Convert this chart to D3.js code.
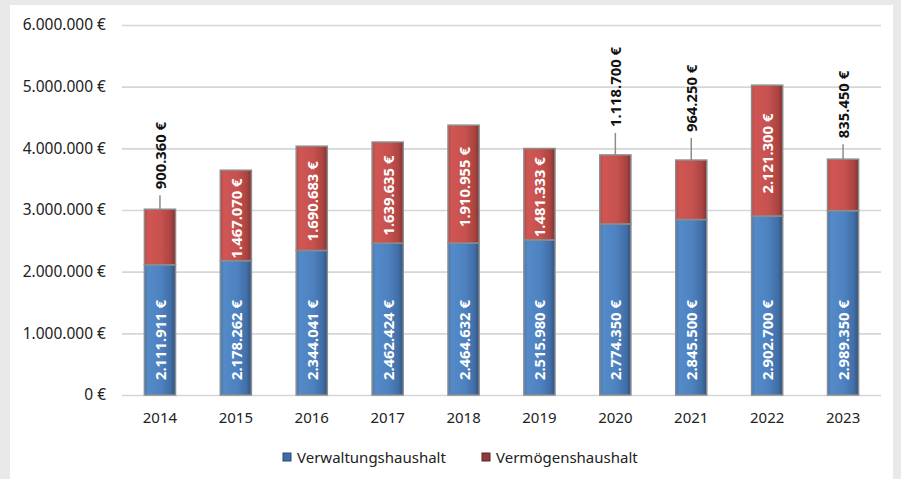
<!DOCTYPE html>
<html>
<head>
<meta charset="utf-8">
<script src="https://cdn.jsdelivr.net/npm/d3@7"></script>
<style>
  html, body { margin: 0; padding: 0; background: #e9e9e9; }
  svg { display: block; font-family: "Noto Sans", "Open Sans", sans-serif; }
</style>
</head>
<body>
<svg id="chart" width="901" height="479"></svg>
<script>
// ---- data ----
const years = ["2014","2015","2016","2017","2018","2019","2020","2021","2022","2023"];
const verwaltung = [2111911, 2178262, 2344041, 2462424, 2464632, 2515980, 2774350, 2845500, 2902700, 2989350];
const vermoegen  = [900360, 1467070, 1690683, 1639635, 1910955, 1481333, 1118700, 964250, 2121300, 835450];
const seriesNames = ["Verwaltungshaushalt", "Vermögenshaushalt"];
const yTicks = [0, 1000000, 2000000, 3000000, 4000000, 5000000, 6000000];
// years whose Vermögenshaushalt label sits above the bar, with leader length (px)
const outsideLeader = {"2014": 14, "2020": 22, "2021": 22, "2023": 15};

// ---- layout ----
const svg = d3.select("#chart");
const W = 901, H = 479;
const plot = {left: 122, right: 881, top: 25, bottom: 395};

svg.append("rect").attr("x", 10).attr("y", 5).attr("width", 883).attr("height", H - 5).attr("fill", "#ffffff");

const de = d3.formatLocale({decimal: ",", thousands: ".", grouping: [3], currency: ["", " €"]});
const fmt = v => de.format(",.0f")(v) + " €";

const x = d3.scaleBand().domain(years).range([plot.left, plot.right]).paddingInner(0.59).paddingOuter(0.295);
const y = d3.scaleLinear().domain([0, 6000000]).range([plot.bottom, plot.top]);

// gradients
const defs = svg.append("defs");
function grad(id, stops) {
  const g = defs.append("linearGradient").attr("id", id).attr("x1", "0").attr("x2", "1").attr("y1", "0").attr("y2", "0");
  stops.forEach(s => g.append("stop").attr("offset", s[0]).attr("stop-color", s[1]));
}
grad("gBlue", [[0, "#4577b2"], [0.12, "#558ac8"], [0.55, "#4d81bf"], [0.85, "#416ea5"], [1, "#2e5281"]]);
grad("gRed",  [[0, "#b84947"], [0.12, "#d05653"], [0.55, "#c6514e"], [0.85, "#ab4441"], [1, "#803231"]]);

// grid + y axis
const yAxis = d3.axisLeft(y).tickValues(yTicks).tickFormat(fmt).tickSize(-(plot.right - plot.left)).tickPadding(16);
const gy = svg.append("g").attr("transform", `translate(${plot.left},0)`).call(yAxis);
gy.select(".domain").remove();
gy.selectAll(".tick line").attr("stroke", "#d6d6d6").attr("stroke-width", 1.6);
gy.selectAll(".tick text").attr("font-size", 15.5).attr("fill", "#222").attr("font-family", "Noto Sans, sans-serif");

// x axis labels
const xAxis = d3.axisBottom(x).tickSize(0).tickPadding(17);
const gx = svg.append("g").attr("transform", `translate(0,${plot.bottom})`).call(xAxis);
gx.select(".domain").remove();
gx.selectAll(".tick text").attr("font-size", 15).attr("fill", "#222").attr("font-family", "Noto Sans, sans-serif");

// stacked data
const rows = years.map((yr, i) => ({year: yr, a: verwaltung[i], b: vermoegen[i]}));
const stack = d3.stack().keys(["a", "b"])(rows);
const fills = ["url(#gBlue)", "url(#gRed)"];

stack.forEach((layer, li) => {
  svg.append("g").selectAll("rect").data(layer).join("rect")
    .attr("x", d => x(d.data.year))
    .attr("y", d => y(d[1]))
    .attr("width", x.bandwidth())
    .attr("height", d => y(d[0]) - y(d[1]))
    .attr("fill", fills[li])
    .attr("stroke", "#8c8c8c")
    .attr("stroke-width", 1.5);
});

// labels
const lab = svg.append("g").attr("font-weight", "bold").attr("font-size", 14.8).attr("font-family", "Noto Sans, sans-serif");
// blue: inside base
stack[0].forEach(d => {
  const cx = x(d.data.year) + x.bandwidth() / 2;
  const by = y(0) - 15;
  lab.append("text").attr("transform", `translate(${cx},${by}) rotate(-90)`)
    .attr("text-anchor", "start").attr("dominant-baseline", "central")
    .attr("fill", "#ffffff").text(fmt(d.data.a));
});
// red
stack[1].forEach(d => {
  const cx = x(d.data.year) + x.bandwidth() / 2;
  const lead = outsideLeader[d.data.year];
  if (lead) {
    const top = y(d[1]);
    lab.append("line").attr("x1", cx).attr("x2", cx).attr("y1", top).attr("y2", top - lead)
      .attr("stroke", "#8c8c8c").attr("stroke-width", 1.5);
    lab.append("text").attr("transform", `translate(${cx},${top - lead - 6}) rotate(-90)`)
      .attr("text-anchor", "start").attr("dominant-baseline", "central")
      .attr("fill", "#111").text(fmt(d.data.b));
  } else {
    const my = (y(d[0]) + y(d[1])) / 2 + 3;
    lab.append("text").attr("transform", `translate(${cx},${my}) rotate(-90)`)
      .attr("text-anchor", "middle").attr("dominant-baseline", "central")
      .attr("fill", "#ffffff").text(fmt(d.data.b));
  }
});

// legend
const legend = svg.append("g").attr("font-size", 15).attr("font-family", "Noto Sans, sans-serif");
const legendItems = [{name: seriesNames[0], x: 283, c: "#3f6ca6", s: "#2a4a75"}, {name: seriesNames[1], x: 482, c: "#8e3a38", s: "#5e2423"}];
legendItems.forEach(it => {
  legend.append("rect").attr("x", it.x).attr("y", 453).attr("width", 8).attr("height", 8)
    .attr("fill", it.c).attr("stroke", it.s).attr("stroke-width", 1);
  legend.append("text").attr("x", it.x + 14).attr("y", 457).attr("dominant-baseline", "central")
    .attr("fill", "#222").text(it.name);
});
</script>
</body>
</html>
